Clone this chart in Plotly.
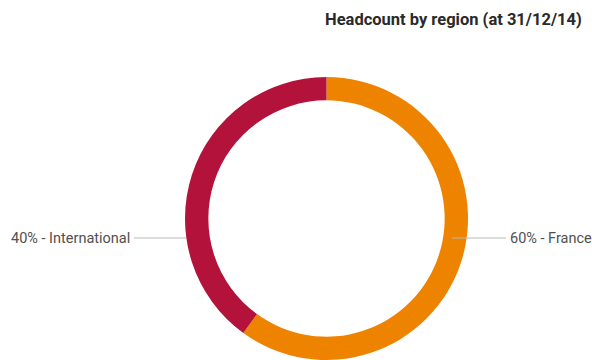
import plotly.graph_objects as go

regions = ["France", "International"]
shares = [60, 40]
colors = ["#EE8300", "#B3133A"]
title_text = "Headcount by region (at 31/12/14)"

W, H = 592, 360
TOP = 77
PLOT_H = H - TOP


def py(px):
    """Pixel row from the top of the figure -> paper y."""
    return (H - px) / PLOT_H


fig = go.Figure(
    go.Pie(
        labels=regions,
        values=shares,
        hole=0.835,
        sort=False,
        direction="clockwise",
        rotation=0,
        marker=dict(colors=colors, line=dict(width=0)),
        textinfo="none",
        hoverinfo="label+percent",
        domain=dict(x=[185 / W, 468 / W], y=[0, 1]),
        showlegend=False,
    )
)

label_font = dict(family="Roboto, Noto Sans, sans-serif", size=14.5, color="#505050")
line_style = dict(color="#B8B8B8", width=1)
label_y = py(238)

# Outside labels with short horizontal leader lines
fig.add_annotation(
    x=508 / W, y=label_y, xref="paper", yref="paper",
    text=f"{shares[0]}% - {regions[0]}", showarrow=False,
    xanchor="left", yanchor="middle", font=label_font,
)
fig.add_shape(type="line", xref="paper", yref="paper",
              x0=452 / W, x1=506 / W, y0=label_y, y1=label_y, line=line_style)

fig.add_annotation(
    x=132 / W, y=label_y, xref="paper", yref="paper",
    text=f"{shares[1]}% - {regions[1]}", showarrow=False,
    xanchor="right", yanchor="middle", font=label_font,
)
fig.add_shape(type="line", xref="paper", yref="paper",
              x0=134 / W, x1=186 / W, y0=label_y, y1=label_y, line=line_style,
              layer="below")

fig.add_annotation(
    x=584 / W, y=py(19), xref="paper", yref="paper",
    text=f"<b>{title_text}</b>", showarrow=False,
    xanchor="right", yanchor="middle",
    font=dict(family="Roboto, sans-serif", size=16.5, color="#2a2a2a"),
)

fig.update_layout(
    width=W, height=H,
    margin=dict(l=0, r=0, t=TOP, b=0),
    paper_bgcolor="white",
    plot_bgcolor="white",
)

fig.write_html("out.html")
